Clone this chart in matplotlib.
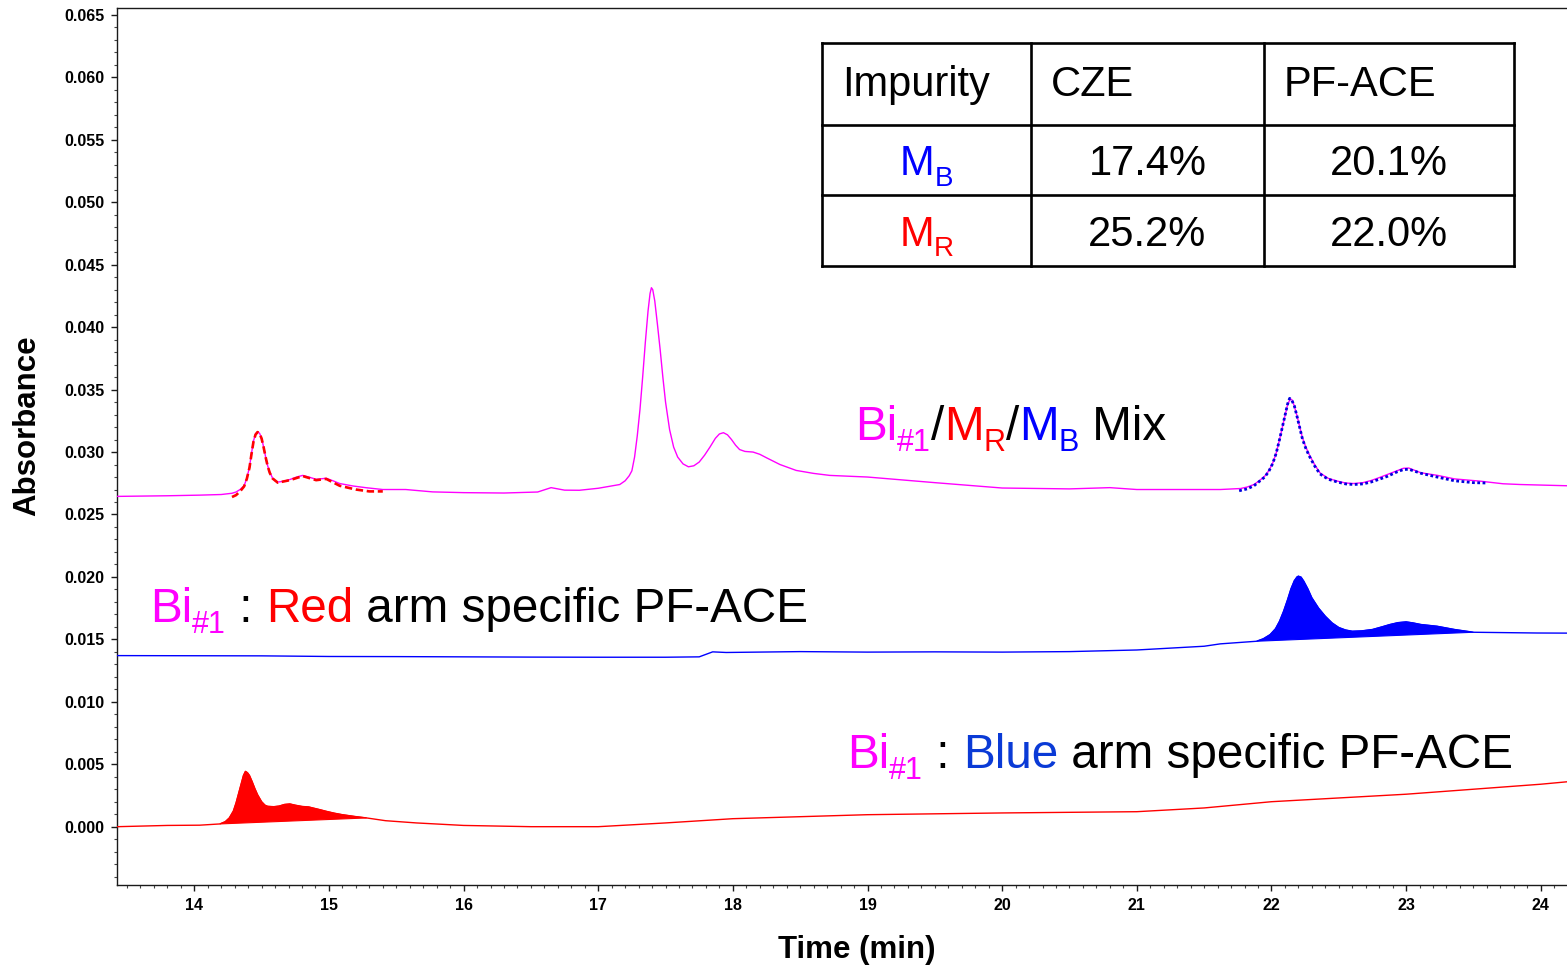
import matplotlib
matplotlib.use("Agg")
import matplotlib.pyplot as plt
from matplotlib.ticker import MultipleLocator, FormatStrFormatter
from matplotlib.lines import Line2D
import numpy as np

# ---------------------------------------------------------------- data
# Bi#1 / MR / MB mixture (magenta trace)
mix_t = [13.43, 13.80, 14.04, 14.20, 14.28, 14.31, 14.34, 14.37, 14.39, 14.41,
         14.425, 14.44, 14.455, 14.47, 14.485, 14.50, 14.515, 14.53, 14.545, 14.56,
         14.58, 14.60, 14.62, 14.66, 14.71, 14.76, 14.805, 14.85, 14.905, 14.95,
         14.98, 15.03, 15.08, 15.18, 15.28, 15.40, 15.57, 15.77, 16.00, 16.30,
         16.55, 16.65, 16.75, 16.86, 17.00, 17.16, 17.20, 17.23, 17.25, 17.27,
         17.29, 17.31, 17.33, 17.35, 17.37, 17.385, 17.395, 17.405, 17.42, 17.44,
         17.46, 17.48, 17.50, 17.53, 17.56, 17.59, 17.63, 17.67, 17.71, 17.75,
         17.79, 17.83, 17.87, 17.90, 17.93, 17.96, 17.99, 18.02, 18.05, 18.09,
         18.15, 18.20, 18.25, 18.35, 18.47, 18.60, 18.72, 19.00, 19.50, 20.00,
         20.50, 20.80, 21.00, 21.40, 21.62, 21.77, 21.82, 21.87, 21.91, 21.95,
         21.98, 22.01, 22.035, 22.06, 22.08, 22.10, 22.12, 22.14, 22.155, 22.17,
         22.19, 22.21, 22.23, 22.255, 22.28, 22.32, 22.36, 22.42, 22.49, 22.55,
         22.61, 22.68, 22.74, 22.80, 22.86, 22.93, 22.98, 23.02, 23.06, 23.11,
         23.23, 23.36, 23.55, 23.72, 23.85, 24.20]
mix_a = [0.02645, 0.02650, 0.02655, 0.02660, 0.02670, 0.02680, 0.02700, 0.02730, 0.02790, 0.02880,
         0.02990, 0.03090, 0.03145, 0.03163, 0.03150, 0.03110, 0.03040, 0.02960, 0.02890, 0.02840,
         0.02795, 0.02770, 0.02760, 0.02765, 0.02780, 0.02800, 0.02813, 0.02800, 0.02782, 0.02787,
         0.02790, 0.02770, 0.02748, 0.02728, 0.02714, 0.02700, 0.02700, 0.02681, 0.02675, 0.02672,
         0.02680, 0.02715, 0.02695, 0.02694, 0.02710, 0.02740, 0.02770, 0.02810, 0.02850, 0.02960,
         0.03130, 0.03340, 0.03600, 0.03880, 0.04130, 0.04270, 0.04316, 0.04300, 0.04210, 0.04020,
         0.03820, 0.03600, 0.03400, 0.03180, 0.03040, 0.02960, 0.02905, 0.02882, 0.02890, 0.02920,
         0.02975, 0.03040, 0.03110, 0.03145, 0.03155, 0.03138, 0.03100, 0.03055, 0.03020, 0.03005,
         0.03000, 0.02982, 0.02954, 0.02900, 0.02853, 0.02829, 0.02813, 0.02800, 0.02755, 0.02712,
         0.02705, 0.02715, 0.02700, 0.02700, 0.02700, 0.02708, 0.02720, 0.02740, 0.02770, 0.02807,
         0.02850, 0.02913, 0.02990, 0.03100, 0.03195, 0.03288, 0.03380, 0.03427, 0.03415, 0.03368,
         0.03290, 0.03200, 0.03115, 0.03040, 0.02981, 0.02900, 0.02834, 0.02790, 0.02767, 0.02752,
         0.02748, 0.02755, 0.02772, 0.02795, 0.02820, 0.02850, 0.02870, 0.02872, 0.02855, 0.02834,
         0.02814, 0.02785, 0.02767, 0.02746, 0.02740, 0.02730]

# MR peak overlay (red dashed)
mr_t = [14.28, 14.31, 14.34, 14.37, 14.39, 14.41, 14.425, 14.44, 14.455, 14.47,
        14.485, 14.50, 14.515, 14.53, 14.545, 14.56, 14.58, 14.62, 14.71, 14.805,
        14.905, 14.98, 15.08, 15.20, 15.30, 15.40]
mr_a = [0.02640, 0.02655, 0.02685, 0.02725, 0.02785, 0.02875, 0.02985, 0.03085, 0.03140, 0.03160,
        0.03148, 0.03108, 0.03038, 0.02958, 0.02888, 0.02835, 0.02790, 0.02755, 0.02775, 0.02808,
        0.02775, 0.02785, 0.02730, 0.02700, 0.02685, 0.02685]

# MB peak overlay (blue dotted)
mb_t = [21.76, 21.82, 21.87, 21.91, 21.95, 21.98, 22.01, 22.035, 22.06, 22.08,
        22.10, 22.12, 22.135, 22.15, 22.17, 22.19, 22.21, 22.23, 22.255, 22.28,
        22.32, 22.36, 22.42, 22.49, 22.55, 22.61, 22.68, 22.74, 22.80, 22.86,
        22.93, 22.98, 23.02, 23.06, 23.11, 23.23, 23.36, 23.50, 23.60]
mb_a = [0.02690, 0.02705, 0.02730, 0.02765, 0.02800, 0.02845, 0.02910, 0.02990, 0.03100, 0.03195,
        0.03290, 0.03385, 0.03430, 0.03418, 0.03370, 0.03285, 0.03195, 0.03105, 0.03030, 0.02970,
        0.02890, 0.02825, 0.02783, 0.02760, 0.02745, 0.02740, 0.02745, 0.02760, 0.02782, 0.02805,
        0.02840, 0.02860, 0.02862, 0.02848, 0.02830, 0.02800, 0.02770, 0.02755, 0.02752]

# Red arm specific PF-ACE (blue trace)
red_arm_t = [13.43, 14.50, 15.00, 15.50, 16.00, 16.50, 17.00, 17.50, 17.75, 17.85,
             17.95, 18.50, 19.00, 19.50, 20.00, 20.50, 21.00, 21.50, 21.62, 21.89,
             21.94, 21.99, 22.03, 22.06, 22.09, 22.12, 22.145, 22.17, 22.19, 22.20,
             22.22, 22.24, 22.27, 22.30, 22.35, 22.40, 22.45, 22.50, 22.55, 22.60,
             22.67, 22.75, 22.82, 22.88, 22.94, 23.00, 23.05, 23.11, 23.23, 23.36,
             23.50, 23.97, 24.20]
red_arm_a = [0.01370, 0.01368, 0.01363, 0.01362, 0.01360, 0.01358, 0.01357, 0.01357, 0.01360, 0.01400,
             0.01395, 0.01402, 0.01398, 0.01400, 0.01398, 0.01402, 0.01415, 0.01445, 0.01464, 0.01485,
             0.01505, 0.01538, 0.01585, 0.01645, 0.01725, 0.01819, 0.01905, 0.01970, 0.02000, 0.02006,
             0.01998, 0.01966, 0.01905, 0.01833, 0.01750, 0.01685, 0.01632, 0.01595, 0.01575, 0.01565,
             0.01568, 0.01579, 0.01600, 0.01619, 0.01634, 0.01640, 0.01632, 0.01619, 0.01605, 0.01579,
             0.01557, 0.01551, 0.01550]
red_arm_peak = (21.89, 23.50)

# Blue arm specific PF-ACE (red trace)
blue_arm_t = [13.43, 13.80, 14.04, 14.19, 14.23, 14.26, 14.29, 14.31, 14.33, 14.35,
              14.365, 14.38, 14.395, 14.41, 14.43, 14.45, 14.47, 14.50, 14.525, 14.545,
              14.59, 14.63, 14.67, 14.71, 14.75, 14.80, 14.85, 14.88, 14.93, 14.98,
              15.04, 15.10, 15.19, 15.28, 15.42, 15.65, 16.00, 16.50, 17.00, 17.50,
              18.00, 19.00, 20.00, 21.00, 21.50, 22.00, 22.50, 23.00, 23.50, 24.00,
              24.20]
blue_arm_a = [0.00000, 0.00010, 0.00012, 0.00022, 0.00040, 0.00070, 0.00125, 0.00190, 0.00270, 0.00350,
              0.00410, 0.00443, 0.00432, 0.00410, 0.00360, 0.00305, 0.00256, 0.00200, 0.00172, 0.00163,
              0.00160, 0.00165, 0.00178, 0.00182, 0.00172, 0.00162, 0.00158, 0.00150, 0.00137, 0.00123,
              0.00108, 0.00096, 0.00082, 0.00070, 0.00048, 0.00030, 0.00010, 0.00000, 0.00000, 0.00030,
              0.00064, 0.00096, 0.00110, 0.00120, 0.00150, 0.00200, 0.00230, 0.00260, 0.00300, 0.00340,
              0.00360]
blue_arm_peak = (14.19, 15.28)

# Impurity table
table_header = ["Impurity", "CZE", "PF-ACE"]
table_rows = [("M", "B", "blue", "17.4%", "20.1%"),
              ("M", "R", "red", "25.2%", "22.0%")]

x_ticks = [14, 15, 16, 17, 18, 19, 20, 21, 22, 23, 24]

# ---------------------------------------------------------------- figure
W, H = 1567, 967
plt.rcParams["font.family"] = ["Liberation Sans", "DejaVu Sans"]
plt.rcParams["font.weight"] = "bold"
fig = plt.figure(figsize=(W / 100, H / 100), dpi=100)

ax = fig.add_axes([117 / W, (H - 885) / H, (W - 117) / W, (885 - 8) / H])
ax.set_xlim(13.426, 24.195)
ax.set_ylim(-0.00467, 0.06556)

MAG, RED, BLUE = "#ff00ff", "#ff0000", "#0000ff"

ax.plot(mix_t, mix_a, color=MAG, lw=1.0, zorder=3)
ax.plot(mr_t, mr_a, color=RED, lw=1.9, dashes=(2.8, 1.4), zorder=4)
ax.plot(mb_t, mb_a, color="#0000e0", lw=2.0, dashes=(1.0, 0.9),
        dash_capstyle="butt", zorder=4)

ax.plot(red_arm_t, red_arm_a, color=BLUE, lw=1.0, zorder=3)
ax.plot(blue_arm_t, blue_arm_a, color=RED, lw=1.0, zorder=3)

# integrated peak areas (closed against the straight peak baseline)
for t, a, (t0, t1), c in [(red_arm_t, red_arm_a, red_arm_peak, BLUE),
                          (blue_arm_t, blue_arm_a, blue_arm_peak, RED)]:
    t = np.asarray(t)
    a = np.asarray(a)
    m = (t >= t0) & (t <= t1)
    ax.fill(t[m], a[m], color=c, lw=0.8, zorder=2)

for side in ["left", "bottom", "top"]:
    ax.spines[side].set_color("#1a1a1a")
    ax.spines[side].set_linewidth(1.0)
ax.spines["right"].set_visible(False)

ax.set_xticks(x_ticks)
ax.xaxis.set_minor_locator(MultipleLocator(0.1))
ax.yaxis.set_major_locator(MultipleLocator(0.005))
ax.yaxis.set_minor_locator(MultipleLocator(0.001))
ax.yaxis.set_major_formatter(FormatStrFormatter("%.3f"))
ax.tick_params(which="major", direction="out", length=4, width=1.0,
               labelsize=11.5, pad=5, color="#1a1a1a")
ax.tick_params(which="minor", direction="out", length=2.5, width=0.8,
               color="#444444")
ax.tick_params(top=False, right=False, which="both")

fig.text(27 / W, 1 - 426 / H, "Absorbance", rotation=90, ha="center",
         va="center", fontsize=22.5, fontweight="bold")
fig.text(857 / W, 1 - 950 / H, "Time (min)", ha="center", va="center",
         fontsize=22.5, fontweight="bold")

renderer = fig.canvas.get_renderer()


def rich_text(x_px, base_px, pieces, size, sub_size, sub_drop):
    """Draw coloured text pieces one after the other from a pixel baseline."""
    x = x_px
    for s, color, is_sub in pieces:
        fs = sub_size if is_sub else size
        y = base_px + (sub_drop if is_sub else 0)
        t = fig.text(x / W, 1 - y / H, s, color=color, fontsize=fs,
                     fontweight="normal", ha="left", va="baseline")
        x += t.get_window_extent(renderer).width
    return x


LBL, SUB = 34.3, 22
rich_text(855, 440, [("Bi", MAG, False), ("#1", MAG, True), ("/", "black", False),
                     ("M", RED, False), ("R", RED, True), ("/", "black", False),
                     ("M", BLUE, False), ("B", BLUE, True), (" Mix", "black", False)],
          LBL, SUB, 11)
rich_text(150, 622, [("Bi", MAG, False), ("#1", MAG, True), (" : ", "black", False),
                     ("Red", RED, False), (" arm specific PF-ACE", "black", False)],
          LBL, SUB, 11)
rich_text(847, 768, [("Bi", MAG, False), ("#1", MAG, True), (" : ", "black", False),
                     ("Blue", "#0a3ad6", False), (" arm specific PF-ACE", "black", False)],
          LBL, SUB, 11)

# ---------------------------------------------------------------- table
tx0, tx1 = 822, 1514
ty = [43, 125, 195, 266]
tcols = [822, 1031, 1264, 1514]
lw_t = 1.9
for yy in ty:
    fig.add_artist(Line2D([tx0 / W, tx1 / W], [1 - yy / H, 1 - yy / H],
                          color="black", lw=lw_t, solid_capstyle="projecting"))
for xx in tcols:
    fig.add_artist(Line2D([xx / W, xx / W], [1 - ty[0] / H, 1 - ty[-1] / H],
                          color="black", lw=lw_t, solid_capstyle="projecting"))

TF = 30
for i, h in enumerate(table_header):
    fig.text((tcols[i] + 20) / W, 1 - 96 / H, h, fontsize=TF, fontweight="normal",
             ha="left", va="baseline")

row_base = [175, 246]
for (m, sub, c, cze, pface), yb in zip(table_rows, row_base):
    # centre the subscripted name in the first column
    probe_m = fig.text(0, 0, m, fontsize=TF, fontweight="normal")
    probe_s = fig.text(0, 0, sub, fontsize=20, fontweight="normal")
    wtot = probe_m.get_window_extent(renderer).width + probe_s.get_window_extent(renderer).width
    probe_m.remove()
    probe_s.remove()
    cx = (tcols[0] + tcols[1]) / 2
    rich_text(cx - wtot / 2, yb, [(m, c, False), (sub, c, True)], TF, 20, 10.5)
    for txt, (ca, cb) in zip([cze, pface], [(tcols[1], tcols[2]), (tcols[2], tcols[3])]):
        fig.text(((ca + cb) / 2) / W, 1 - yb / H, txt, fontsize=TF,
                 fontweight="normal", ha="center", va="baseline")

fig.savefig("out.png", dpi=100)
